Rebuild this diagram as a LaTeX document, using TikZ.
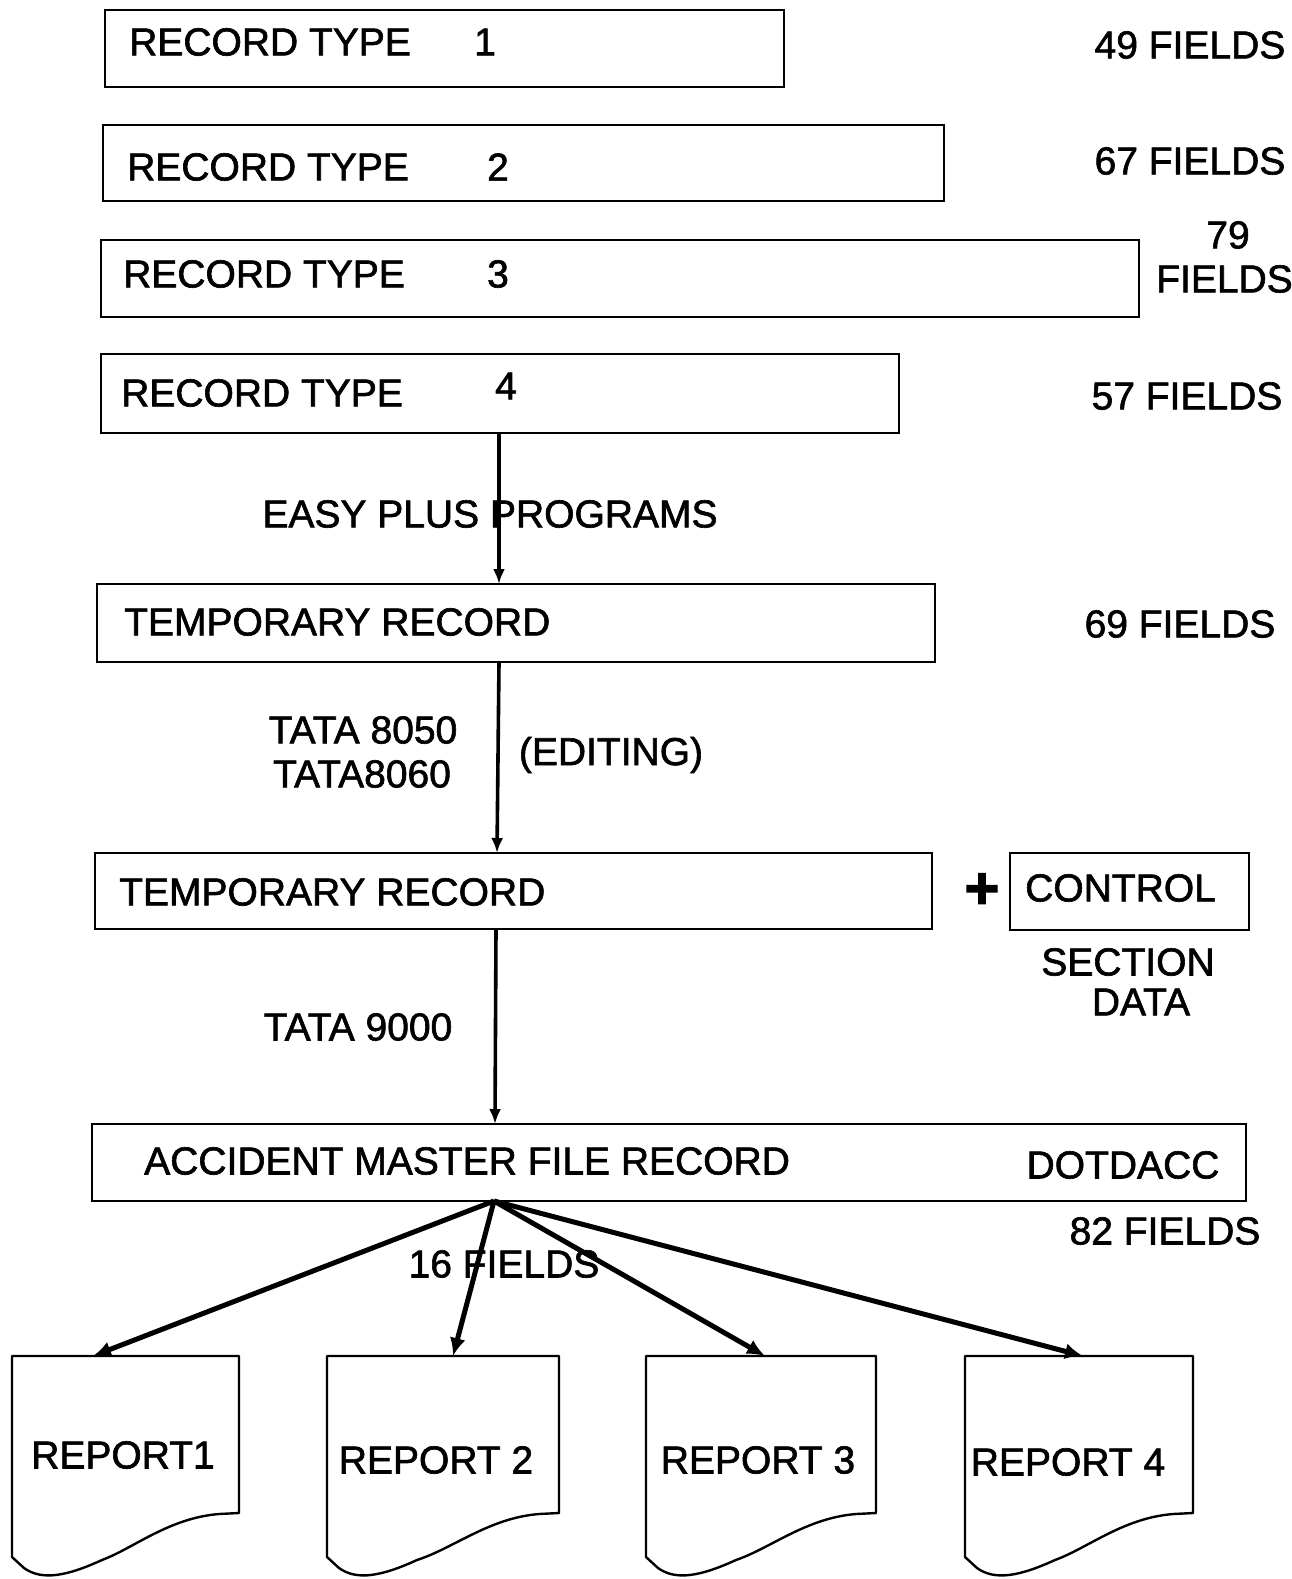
\documentclass[tikz,border=0pt]{standalone}
\usepackage{fontspec}
\setmainfont{Liberation Sans}[BoldFont=Liberation Sans, BoldFeatures={FakeBold=1.6}]
\newfontfamily\plusfont{Liberation Sans Bold}[FakeBold=2]
\usetikzlibrary{arrows.meta,calc}
\begin{document}
\begin{tikzpicture}[x=1pt,y=-1pt,
  box/.style={draw, line width=2.4pt, inner sep=0, outer sep=0, anchor=north west},
  lbl/.style={font=\fontsize{39}{44}\selectfont\bfseries, inner sep=0},
  varr/.style={line width=3.6pt, -{Latex[length=15pt,width=12pt]}},
  darr/.style={line width=5pt, -{Latex[length=18pt,width=16pt]}},
  docline/.style={line width=2.4pt, line join=round}]
\useasboundingbox (0,0) rectangle (1291,1579);
% record boxes
\node[box, minimum width=679pt, minimum height=77pt] (b1) at (105,10) {};
\node[box, minimum width=841pt, minimum height=76pt] (b2) at (103,125) {};
\node[box, minimum width=1038pt, minimum height=77pt] (b3) at (101,240) {};
\node[box, minimum width=798pt, minimum height=79pt] (b4) at (101,354) {};
\node[box, minimum width=838pt, minimum height=78pt] (t1) at (97,584) {};
\node[box, minimum width=837pt, minimum height=76pt] (t2) at (95,853) {};
\node[box, minimum width=239pt, minimum height=77pt] (ctl) at (1010,853) {};
\node[box, minimum width=1154pt, minimum height=77pt] (acc) at (92,1124) {};
% texts in boxes
\node[lbl, anchor=west] (b1t) at (129,42) {RECORD TYPE};
\node[lbl] (b1n) at (485,42) {1};
\node[lbl, anchor=west] (b2t) at (127,167) {RECORD TYPE};
\node[lbl] (b2n) at (498,167) {2};
\node[lbl, anchor=west] (b3t) at (123,274) {RECORD TYPE};
\node[lbl] (b3n) at (498,274) {3};
\node[lbl, anchor=west] (b4t) at (121,393) {RECORD TYPE};
\node[lbl] (b4n) at (506,386) {4};
\node[lbl, anchor=west] (t1t) at (124,622) {TEMPORARY RECORD};
\node[lbl, anchor=west] (t2t) at (119,892) {TEMPORARY RECORD};
\node[lbl, anchor=west] (ctlt) at (1025,888) {CONTROL};
\node[lbl, anchor=west] (acct) at (144,1161) {ACCIDENT MASTER FILE RECORD};
\node[lbl] (dot) at (1123,1165) {DOTDACC};
% side labels
\node[lbl] (f49) at (1190,45) {49 FIELDS};
\node[lbl] (f67) at (1190,161) {67 FIELDS};
\node[lbl] (f79a) at (1228,235) {79};
\node[lbl, anchor=west] (f79b) at (1156,279) {FIELDS};
\node[lbl] (f57) at (1187,396) {57 FIELDS};
\node[lbl] (f69) at (1180,624) {69 FIELDS};
\node[inner sep=0, font=\plusfont\fontsize{60}{60}\selectfont] (plus) at (982,891) {+};
\node[lbl] (sec) at (1128,962) {SECTION};
\node[lbl] (data) at (1141,1002) {DATA};
\node[lbl] (f82) at (1165,1231) {82 FIELDS};
% vertical arrows
\draw[varr] ($(b4.south west)+(398,0)$) -- ($(t1.north west)+(402,0)$);
\draw[varr] ($(t1.south west)+(402,0)$) -- ($(t2.north west)+(402,0)$);
\draw[varr] ($(t2.south west)+(401,0)$) -- ($(acc.north west)+(403,0)$);
\node[lbl] (easy) at (490,514) {EASY PLUS PROGRAMS};
\node[lbl] (ta1) at (363,730) {TATA 8050};
\node[lbl] (ta2) at (362,774) {TATA8060};
\node[lbl] (edit) at (611,755) {(EDITING)};
\node[lbl] (ta9) at (358,1027) {TATA 9000};
% reports
\foreach \xa/\xb/\n in {12/239/1, 327/559/2, 646/876/3, 965/1193/4}{
  \draw[docline] (\xa,1356) -- (\xb,1356) -- (\xb,1513) -- (\xb-20,1514)
     .. controls (\xb-70,1518) and (\xb-105,1548) .. (\xa+90,1560)
     .. controls (\xa+55,1576) and (\xa+30,1581) .. (\xa+12,1568) -- (\xa,1557) -- cycle;
  \node[inner sep=0, outer sep=0, anchor=north west, minimum width={(\xb-\xa)*1pt}, minimum height=157pt] (r\n) at (\xa,1356) {};
}
\node[lbl] (r1t) at (123,1455) {REPORT1};
\node[lbl] (r2t) at (436,1460) {REPORT 2};
\node[lbl] (r3t) at (758,1460) {REPORT 3};
\node[lbl] (r4t) at (1068,1462) {REPORT 4};
% fan-out arrows
\coordinate (src) at ($(acc.south west)+(402,0)$);
\draw[darr] (src) -- ($(r1.north west)+(81,0)$);
\draw[darr] (src) -- ($(r2.north west)+(126,0)$);
\draw[darr] (src) -- ($(r3.north west)+(119,0)$);
\draw[darr] (src) -- ($(r4.north west)+(118,0)$);
\node[lbl] (f16) at (504,1264) {16 FIELDS};
\end{tikzpicture}
\end{document}
